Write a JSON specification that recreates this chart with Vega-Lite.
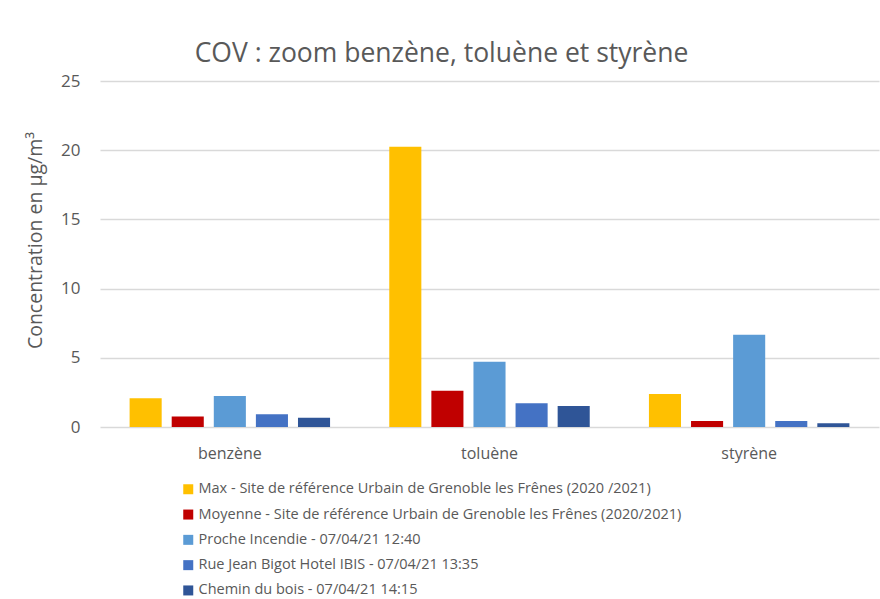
{
  "$schema": "https://vega.github.io/schema/vega-lite/v6.json",
  "autosize": {"type": "none"},
  "width": 779,
  "height": 346,
  "padding": {"left": 100, "top": 81, "right": 1, "bottom": 172},
  "background": "white",
  "config": {
    "view": {"stroke": null},
    "font": "Open Sans"
  },
  "title": {
    "text": "COV : zoom benzène, toluène et styrène",
    "anchor": "middle",
    "dx": -48,
    "dy": 35,
    "offset": 19,
    "baseline": "alphabetic",
    "fontSize": 26.5,
    "fontWeight": "normal",
    "color": "#595959",
    "font": "Open Sans"
  },
  "data": {
    "values": [
      {"compose": "benzène", "serie": "Max - Site de référence Urbain de Grenoble les Frênes (2020 /2021)", "valeur": 2.07},
      {"compose": "benzène", "serie": "Moyenne - Site de référence Urbain de Grenoble les Frênes (2020/2021)", "valeur": 0.75},
      {"compose": "benzène", "serie": "Proche Incendie - 07/04/21 12:40", "valeur": 2.24},
      {"compose": "benzène", "serie": "Rue Jean Bigot Hotel IBIS - 07/04/21 13:35", "valeur": 0.92},
      {"compose": "benzène", "serie": "Chemin du bois - 07/04/21 14:15", "valeur": 0.67},
      {"compose": "toluène", "serie": "Max - Site de référence Urbain de Grenoble les Frênes (2020 /2021)", "valeur": 20.25},
      {"compose": "toluène", "serie": "Moyenne - Site de référence Urbain de Grenoble les Frênes (2020/2021)", "valeur": 2.62},
      {"compose": "toluène", "serie": "Proche Incendie - 07/04/21 12:40", "valeur": 4.72},
      {"compose": "toluène", "serie": "Rue Jean Bigot Hotel IBIS - 07/04/21 13:35", "valeur": 1.71},
      {"compose": "toluène", "serie": "Chemin du bois - 07/04/21 14:15", "valeur": 1.52},
      {"compose": "styrène", "serie": "Max - Site de référence Urbain de Grenoble les Frênes (2020 /2021)", "valeur": 2.38},
      {"compose": "styrène", "serie": "Moyenne - Site de référence Urbain de Grenoble les Frênes (2020/2021)", "valeur": 0.43},
      {"compose": "styrène", "serie": "Proche Incendie - 07/04/21 12:40", "valeur": 6.67},
      {"compose": "styrène", "serie": "Rue Jean Bigot Hotel IBIS - 07/04/21 13:35", "valeur": 0.43},
      {"compose": "styrène", "serie": "Chemin du bois - 07/04/21 14:15", "valeur": 0.27}
    ]
  },
  "mark": {"type": "bar"},
  "encoding": {
    "x": {
      "field": "compose",
      "type": "nominal",
      "sort": ["benzène", "toluène", "styrène"],
      "scale": {"paddingInner": 0.228, "paddingOuter": 0.114},
      "axis": {
        "title": null,
        "labelAngle": 0,
        "domain": false,
        "ticks": false,
        "labelPadding": 18,
        "labelFontSize": 16,
        "labelColor": "#595959",
        "labelFont": "Open Sans"
      }
    },
    "xOffset": {
      "field": "serie",
      "type": "nominal",
      "sort": null,
      "scale": {"paddingInner": 0.238, "paddingOuter": 0}
    },
    "y": {
      "field": "valeur",
      "type": "quantitative",
      "scale": {"domain": [0, 25], "nice": false},
      "axis": {
        "title": "Concentration en µg/m³",
        "titleFontSize": 19.5,
        "titleFontWeight": "normal",
        "titleColor": "#595959",
        "titleFont": "Open Sans",
        "titleX": -65,
        "titleY": 159,
        "titleAngle": -90,
        "titleAlign": "center",
        "titleBaseline": "middle",
        "values": [0, 5, 10, 15, 20, 25],
        "domain": false,
        "ticks": false,
        "labelPadding": 20,
        "labelFontSize": 17,
        "labelColor": "#595959",
        "labelFont": "Open Sans",
        "grid": true,
        "gridColor": "#d9d9d9",
        "gridWidth": 1.5
      }
    },
    "color": {
      "field": "serie",
      "type": "nominal",
      "sort": null,
      "scale": {"range": ["#FFC000", "#C00000", "#5B9BD5", "#4472C4", "#2F5597"]},
      "legend": {
        "title": null,
        "orient": "none",
        "legendX": 81,
        "legendY": 401,
        "padding": 0,
        "symbolType": "square",
        "symbolSize": 100,
        "symbolStrokeWidth": 0,
        "labelOffset": 3,
        "labelFontSize": 14.5,
        "labelColor": "#595959",
        "labelFont": "Open Sans",
        "labelLimit": 700,
        "rowPadding": 10.3
      }
    }
  }
}
